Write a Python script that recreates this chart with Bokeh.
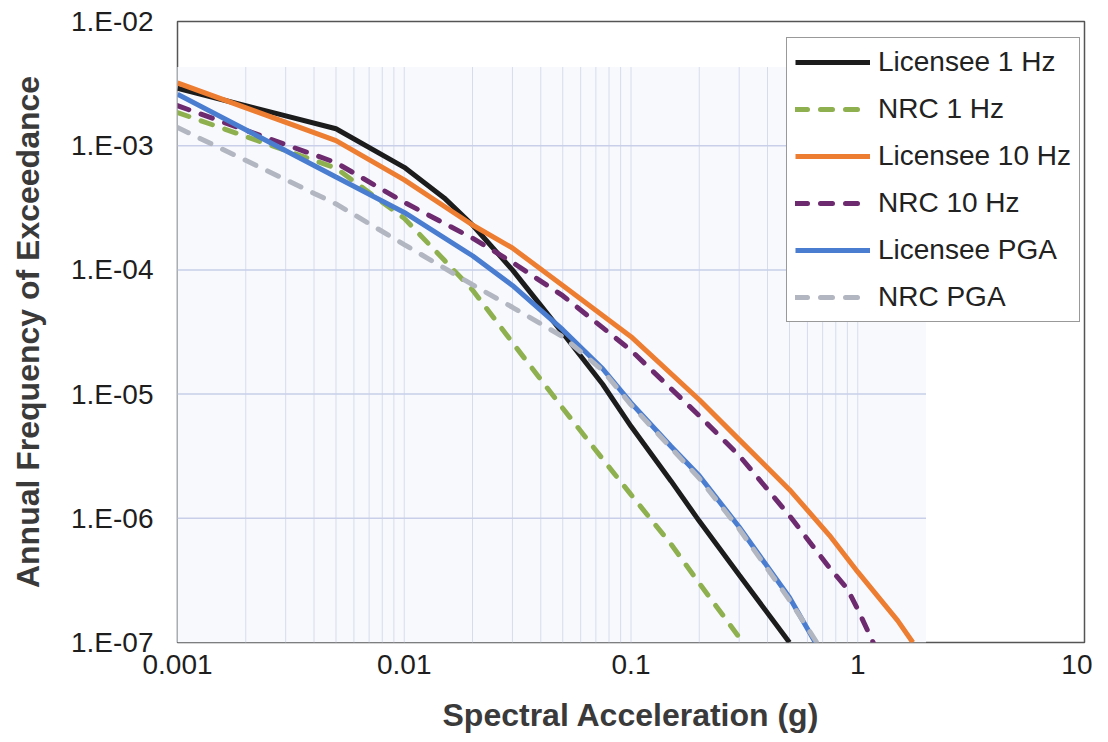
from bokeh.plotting import figure
from bokeh.models import FixedTicker, CustomJSTickFormatter, Legend, LegendItem
from bokeh.embed import file_html
from bokeh.resources import INLINE

# ---- data ----
x_lic1 = [0.001, 0.005, 0.01, 0.015, 0.02, 0.03, 0.05, 0.075, 0.1, 0.15, 0.2, 0.3, 0.5]
y_lic1 = [2.9e-3, 1.37e-3, 6.7e-4, 3.8e-4, 2.3e-4, 1.0e-4, 3.1e-5, 1.2e-5, 5.5e-6, 2.0e-6, 9.5e-7, 3.5e-7, 1.0e-7]

x_nrc1 = [0.001, 0.005, 0.01, 0.015, 0.02, 0.03, 0.05, 0.075, 0.1, 0.15, 0.2, 0.3]
y_nrc1 = [1.85e-3, 6.6e-4, 2.6e-4, 1.2e-4, 6.9e-5, 2.6e-5, 7.7e-6, 3.0e-6, 1.55e-6, 6.2e-7, 3.0e-7, 1.1e-7]

x_lic10 = [0.001, 0.005, 0.01, 0.02, 0.03, 0.05, 0.1, 0.2, 0.3, 0.5, 0.75, 1.0, 1.5, 1.75]
y_lic10 = [3.2e-3, 1.1e-3, 5.3e-4, 2.3e-4, 1.5e-4, 7.5e-5, 2.9e-5, 9.0e-6, 4.3e-6, 1.7e-6, 7.3e-7, 3.7e-7, 1.5e-7, 1.0e-7]

x_nrc10 = [0.001, 0.005, 0.01, 0.02, 0.03, 0.05, 0.1, 0.2, 0.3, 0.5, 0.75, 0.9, 1.0, 1.17]
y_nrc10 = [2.1e-3, 7.3e-4, 3.5e-4, 1.8e-4, 1.15e-4, 6.2e-5, 2.25e-5, 6.7e-6, 3.2e-6, 1.05e-6, 4.0e-7, 2.7e-7, 1.85e-7, 1.0e-7]

x_licpga = [0.001, 0.005, 0.01, 0.02, 0.03, 0.05, 0.075, 0.1, 0.15, 0.2, 0.3, 0.5, 0.65]
y_licpga = [2.6e-3, 5.6e-4, 2.9e-4, 1.3e-4, 7.5e-5, 3.3e-5, 1.6e-5, 8.5e-6, 3.8e-6, 2.2e-6, 8.5e-7, 2.3e-7, 1.0e-7]

x_nrcpga = [0.001, 0.005, 0.01, 0.02, 0.03, 0.05, 0.075, 0.1, 0.2, 0.3, 0.5, 0.66]
y_nrcpga = [1.4e-3, 3.4e-4, 1.6e-4, 7.6e-5, 5.0e-5, 2.9e-5, 1.55e-5, 8.2e-6, 2.1e-6, 8.2e-7, 2.2e-7, 1.0e-7]

x_ticks = [0.001, 0.01, 0.1, 1, 10]
x_tick_labels = ["0.001", "0.01", "0.1", "1", "10"]
y_ticks = [1e-7, 1e-6, 1e-5, 1e-4, 1e-3, 1e-2]
y_tick_labels = ["1.E-07", "1.E-06", "1.E-05", "1.E-04", "1.E-03", "1.E-02"]

# minor grid (vertical) positions and major grid (horizontal) positions
grid_x = [m * 10.0 ** d for d in (-3, -2, -1) for m in range(1, 10)] + [1.0]
grid_y = [1e-6, 1e-5, 1e-4, 1e-3]
GRID_X_END = 2.0        # extent of the gridded area (as in reference)
GRID_Y_TOP = 4.3e-3

series = [
    ("Licensee 1 Hz", x_lic1, y_lic1, "#1c1c1c", "solid"),
    ("NRC 1 Hz", x_nrc1, y_nrc1, "#8fb04e", "dashed"),
    ("Licensee 10 Hz", x_lic10, y_lic10, "#ed7d31", "solid"),
    ("NRC 10 Hz", x_nrc10, y_nrc10, "#6e2a6e", "dashed"),
    ("Licensee PGA", x_licpga, y_licpga, "#4a7dd0", "solid"),
    ("NRC PGA", x_nrcpga, y_nrcpga, "#b2b6c0", "dashed"),
]

FONT = "Liberation Sans"

p = figure(width=1092, height=738, x_axis_type="log", y_axis_type="log",
           x_range=(0.001, 10), y_range=(1e-7, 1e-2),
           output_backend="svg", toolbar_location=None,
           min_border_left=177, min_border_right=8,
           min_border_top=21, min_border_bottom=96)
p.xgrid.visible = False
p.ygrid.visible = False
p.background_fill_color = "white"
p.border_fill_color = "white"
p.outline_line_color = "#555555"
p.outline_line_width = 1.5

# faint gridded area
p.quad(left=[x_ticks[0]], right=[GRID_X_END], bottom=[y_ticks[0]], top=[GRID_Y_TOP],
       fill_color="#f8f9fd", line_color=None)
p.segment(x0=grid_x, y0=[y_ticks[0]] * len(grid_x), x1=grid_x, y1=[GRID_Y_TOP] * len(grid_x),
          line_color="#d6dcee", line_width=1)
p.segment(x0=[x_ticks[0]] * len(grid_y), y0=grid_y, x1=[GRID_X_END] * len(grid_y), y1=grid_y,
          line_color="#c9cfe8", line_width=1.5)

items = []
for name, xs, ys, color, style in series:
    kw = dict(line_color=color, line_width=5)
    if style == "dashed":
        kw.update(line_dash="12 13", line_cap="round")
    r = p.line(xs, ys, **kw)
    items.append(LegendItem(label=name, renderers=[r]))

legend = Legend(items=items, location=(609, 320))
legend.label_text_font = FONT
legend.label_text_font_size = "28px"
legend.label_text_color = "#222222"
legend.glyph_width = 75
legend.glyph_height = 26
legend.label_standoff = 8
legend.padding = 8
legend.spacing = 15
legend.margin = 0
legend.border_line_color = "#333333"
legend.border_line_width = 1
legend.background_fill_color = "white"
legend.background_fill_alpha = 1.0
p.add_layout(legend)

FMT_CODE = """
    let best = 0, bd = 1e9;
    for (let i = 0; i < tvals.length; i++) {
        const d = Math.abs(Math.log10(tvals[i]) - Math.log10(tick));
        if (d < bd) { bd = d; best = i; }
    }
    return tlabels[best];
"""

# axes
xa = p.xaxis[0]
xa.ticker = FixedTicker(ticks=x_ticks, minor_ticks=[])
xa.formatter = CustomJSTickFormatter(args=dict(tvals=x_ticks, tlabels=x_tick_labels), code=FMT_CODE)
xa.axis_label = "Spectral Acceleration (g)"

ya = p.yaxis[0]
ya.ticker = FixedTicker(ticks=y_ticks, minor_ticks=[])
ya.formatter = CustomJSTickFormatter(args=dict(tvals=y_ticks, tlabels=y_tick_labels), code=FMT_CODE)
ya.axis_label = "Annual Frequency of Exceedance"

for ax in (xa, ya):
    ax.axis_line_color = None
    ax.major_tick_line_color = None
    ax.minor_tick_line_color = None
    ax.major_tick_out = 0
    ax.major_tick_in = 0
    ax.major_label_text_font = FONT
    ax.major_label_text_color = "#1e1e1e"
    ax.axis_label_text_font = FONT
    ax.axis_label_text_font_style = "bold"
    ax.axis_label_text_color = "#3a3a3a"
    ax.axis_label_text_font_size = "32px"

xa.major_label_text_font_size = "28px"
xa.major_label_standoff = 12
xa.axis_label_standoff = 20
ya.major_label_text_font_size = "28px"
ya.major_label_standoff = 24
ya.axis_label_standoff = 22
ya.major_label_orientation = "horizontal"

open("out.html", "w").write(file_html(p, INLINE))
